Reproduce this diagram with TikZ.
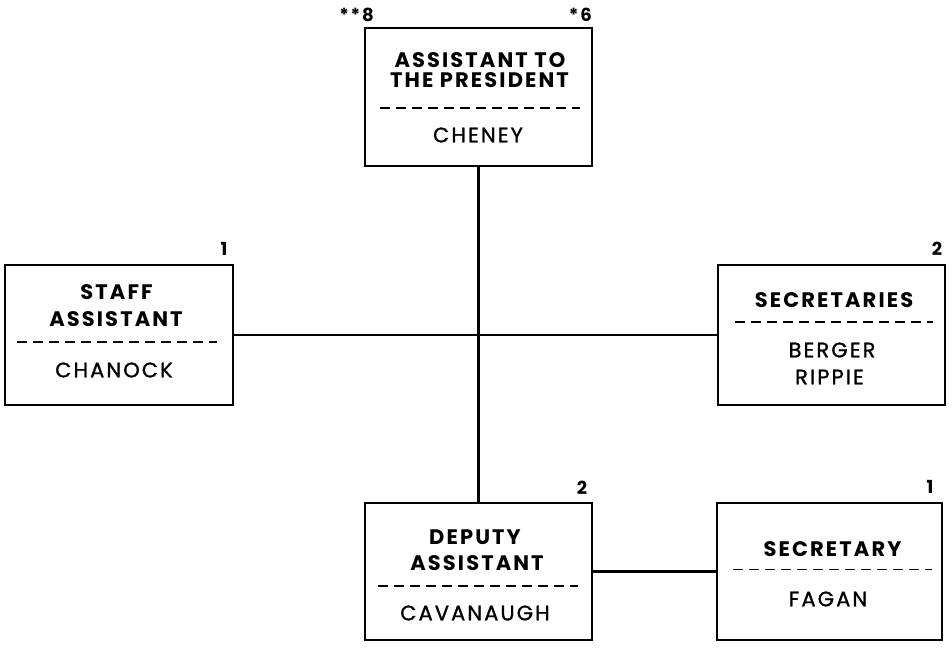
\documentclass[tikz,border=0pt]{standalone}
\usepackage{fontspec}
\setmainfont{Poppins}[LetterSpace=10]
\newfontfamily\namefont{Poppins}[LetterSpace=10, FakeBold=1.2]
\begin{document}
\begin{tikzpicture}[x=1pt,y=-1pt,
  orgbox/.style={draw, line width=2.4pt, inner sep=0pt, outer sep=0pt},
  title/.style={inner sep=0pt, font=\fontsize{21}{24}\selectfont\bfseries},
  person/.style={inner sep=0pt, font=\namefont\fontsize{21}{24}\selectfont},
  count/.style={inner sep=0pt, font=\fontsize{18}{20}\selectfont\bfseries},
  sep/.style={line width=1.8pt, dash pattern=on 10pt off 6pt},
  link/.style={line width=2.2pt}]
\useasboundingbox (0,0) rectangle (952,648);

% boxes
\node[orgbox, minimum width=227pt, minimum height=138pt] (top) at (478.5,97) {};
\node[orgbox, minimum width=228pt, minimum height=140pt] (staff) at (119,335) {};
\node[orgbox, minimum width=227pt, minimum height=140pt] (secs) at (831.5,335) {};
\node[orgbox, minimum width=227pt, minimum height=137pt] (deputy) at (478.5,571.5) {};
\node[orgbox, minimum width=225pt, minimum height=137pt] (sec) at (829.5,571.5) {};

% connectors
\draw[link] (top.south) -- (top.south |- deputy.north);
\draw[link] (staff.east) -- (secs.west);
\draw[link] (deputy.east) -- (deputy.east -| sec.west);

% assistant to the president
\node[title] (topA) at (480,60) {ASSISTANT TO};
\node[title] (topB) at (479.5,80) {THE PRESIDENT};
\draw[sep] (380,108) -- (580,108);
\node[person] (topN) at (478,135) {CHENEY};
\node[count, anchor=east] (topL) at (374,15) {**8};
\node[count, anchor=east] (topR) at (592,15) {*6};

% staff assistant
\node[title] (staffA) at (116.5,292) {STAFF};
\node[title] (staffB) at (116,319) {ASSISTANT};
\draw[sep] (17,342) -- (217,342);
\node[person] (staffN) at (114,370) {CHANOCK};
\node[count] (staffC) at (224,249) {1};

% secretaries
\node[title] (secsA) at (834,300) {SECRETARIES};
\draw[sep] (735,322) -- (933,322);
\node[person] (secsN1) at (832,350) {BERGER};
\node[person] (secsN2) at (829.5,377) {RIPPIE};
\node[count] (secsC) at (937,248.5) {2};

% deputy assistant
\node[title] (depA) at (475,537) {DEPUTY};
\node[title] (depB) at (477,563) {ASSISTANT};
\draw[sep] (378,586) -- (578,586);
\node[person] (depN) at (475,613) {CAVANAUGH};
\node[count] (depC) at (582,488) {2};

% secretary
\node[title] (secA) at (832.5,549) {SECRETARY};
\draw[sep] (733,569.5) -- (932,569.5);
\node[person] (secN) at (828,599) {FAGAN};
\node[count] (secC) at (930,487) {1};
\end{tikzpicture}
\end{document}
